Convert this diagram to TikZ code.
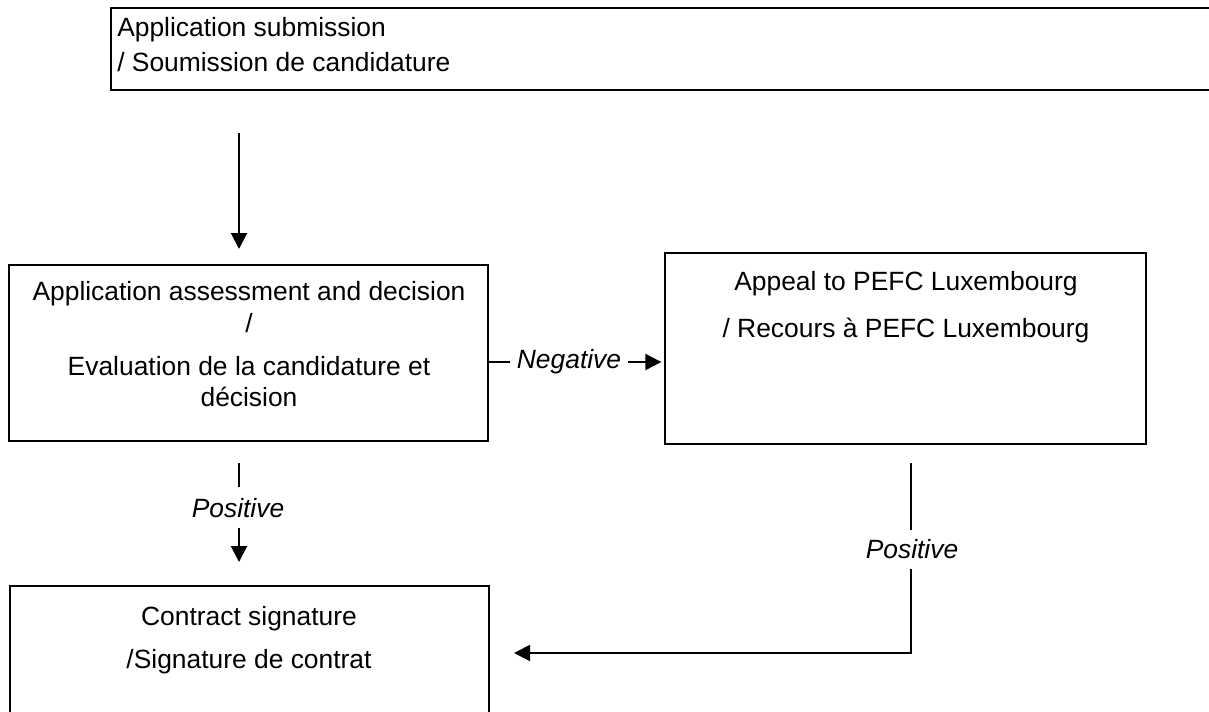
\documentclass[tikz,border=0pt]{standalone}
\usepackage{fontspec}
\setmainfont{Liberation Sans}
\usetikzlibrary{arrows.meta,fit}
\begin{document}
\begin{tikzpicture}[x=0.75pt,y=-0.75pt,
  box/.style={draw,line width=1.5pt,inner sep=0pt},
  txt/.style={inner sep=0pt,font=\fontsize{19.8}{24}\selectfont},
  lbl/.style={txt,font=\fontsize{19.8}{24}\selectfont\itshape},
  conn/.style={line width=1.5pt},
  arr/.style={conn,-{Triangle[length=12pt,width=12pt]}}]
\useasboundingbox[fill=white] (0,0) rectangle (1209,711);
% boxes
\node[box,fit={(111,8) (1260,90)}] (sub) {};
\node[box,fit={(9,265) (488,441)}] (assess) {};
\node[box,fit={(665,253) (1146,444)}] (appeal) {};
\node[box,fit={(10,586) (489,760)}] (contract) {};
% texts
\node[txt,anchor=base west] (subA) at (117,36) {Application submission};
\node[txt,anchor=base west] (subB) at (117,71) {/ Soumission de candidature};
\node[txt,anchor=base] (asA) at (249,300) {Application assessment and decision};
\node[txt,anchor=base] (asB) at (249,332) {/};
\node[txt,anchor=base] (asC) at (249,375) {Evaluation de la candidature et};
\node[txt,anchor=base] (asD) at (249,406) {décision};
\node[txt,anchor=base] (apA) at (906,290) {Appeal to PEFC Luxembourg};
\node[txt,anchor=base] (apB) at (906,337) {/ Recours à PEFC Luxembourg};
\node[txt,anchor=base] (coA) at (249,625) {Contract signature};
\node[txt,anchor=base] (coB) at (249,668) {/Signature de contrat};
% connector labels
\node[lbl,anchor=base,inner xsep=5pt] (negL) at (569,368) {Negative};
\node[lbl,anchor=base] (posL) at (238,517) {Positive};
\node[lbl,anchor=base] (posR) at (912,558) {Positive};
% helper coordinates
\coordinate (c1) at (239,0);
\coordinate (c2) at (911,653);
\coordinate (n) at (0,362);
% connectors
\draw[arr,shorten <=31.5pt,shorten >=11.25pt] (sub.south -| c1) -- (assess.north -| c1);
\draw[conn] (assess.east |- n) -- (negL.west |- n);
\draw[arr,shorten >=2pt] (negL.east |- n) -- (appeal.west |- n);
\draw[conn,shorten <=15.75pt,shorten >=8.25pt] (assess.south -| c1) -- (posL.north -| c1);
\draw[arr,shorten <=7.5pt,shorten >=17.25pt] (posL.south -| c1) -- (contract.north -| c1);
\draw[conn,shorten <=13.5pt,shorten >=6.75pt] (appeal.south -| c2) -- (posR.north -| c2);
\draw[arr,shorten <=7.5pt,shorten >=18pt] (posR.south -| c2) -- (c2) -- (contract.east |- c2);
\end{tikzpicture}
\end{document}
